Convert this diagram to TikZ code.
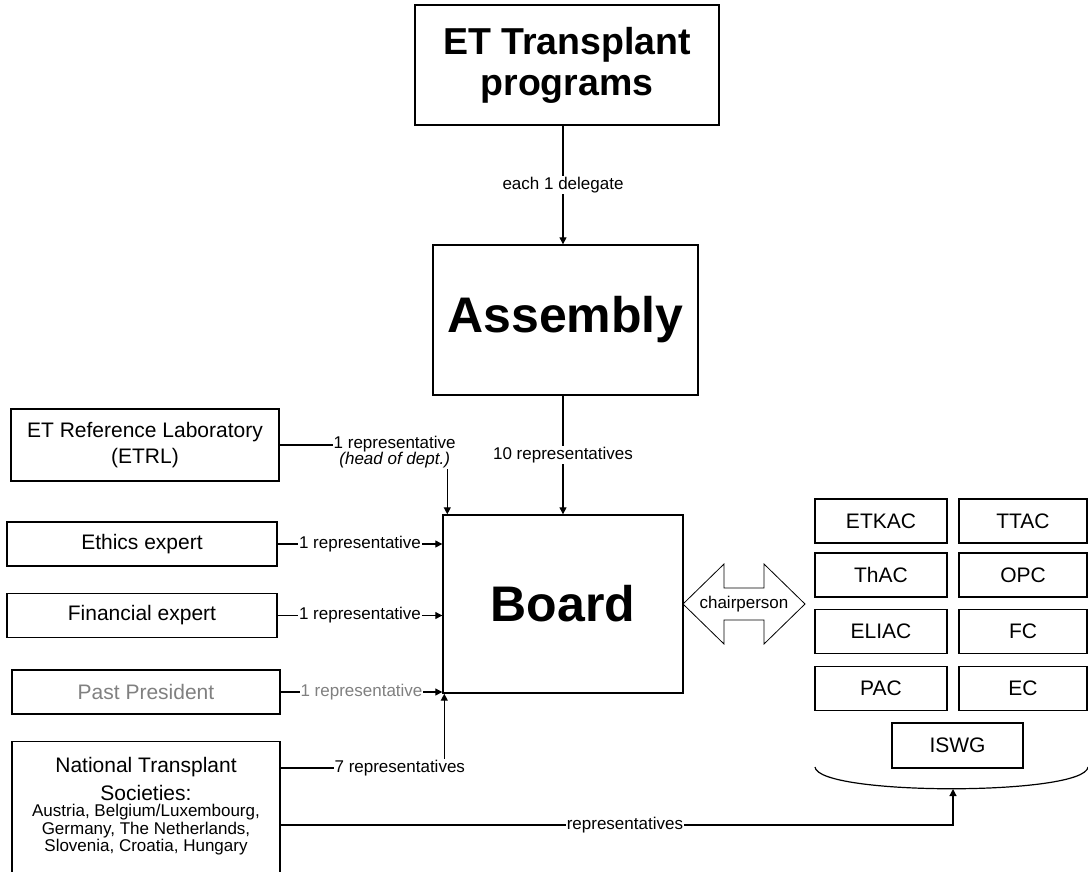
\documentclass[tikz,border=0pt]{standalone}
\usepackage{fontspec}
\setmainfont{Liberation Sans}
\usetikzlibrary{arrows.meta}
\definecolor{pastgray}{rgb}{0.5, 0.5, 0.5}

\begin{document}
\begin{tikzpicture}[x=1pt, y=-1pt,
					box/.style = {shape=rectangle, draw, line width=1.4pt,
						inner sep=0pt, align=center,
					font=\fontsize{21}{26}\selectfont},
					bigbox/.style = {box, font=\bfseries\fontsize{50}{60}\selectfont},
					expert/.style = {box, minimum width=270pt, minimum height=44pt},
					committee/.style = {box, minimum width=132pt, minimum height=44pt},
					lbl/.style = {fill=white, inner sep=1pt, align=center,
					font=\fontsize{17}{16}\selectfont},
					arr/.style = {line width=1.2pt, -{Triangle[length=7pt,width=7pt]}}]
				\clip (0,0) rectangle (1088,871);
				% governing bodies
				\node[bigbox, minimum width=304pt, minimum height=120pt,
					font=\bfseries\fontsize{37.5}{41}\selectfont] (et) at (567,65) {ET Transplant\\programs};
				\node[bigbox, minimum width=265pt, minimum height=150pt] (assembly) at (565.5,320) {Assembly};
				\node[bigbox, minimum width=240pt, minimum height=178pt] (board) at (563,604) {Board};
				% members on the left
				\node[box, minimum width=268pt, minimum height=72pt] (etrl) at (145,445) {ET Reference Laboratory\\(ETRL)};
				\node[expert] (ethics) at (142,544) {Ethics expert};
				\node[expert] (financial) at (142,615.5) {Financial expert};
				\node[expert, minimum width=268pt, text=pastgray] (past) at (146,692) {Past President};
				\node[box, anchor=north, minimum width=268pt, font=\fontsize{21}{28}\selectfont,
					inner ysep=16pt, text depth=90pt] (nts) at (146,741)
					{National Transplant\\Societies:\\[-12pt]
					\fontsize{17}{17.5}\selectfont Austria, Belgium/Luxembourg,\\[-10.5pt]
					\fontsize{17}{17.5}\selectfont Germany, The Netherlands,\\[-10.5pt]
					\fontsize{17}{17.5}\selectfont Slovenia, Croatia, Hungary};
				% committees
				\node[committee] (etkac) at (881,521) {ETKAC};
				\node[committee, minimum width=128pt] (ttac) at (1023,521) {TTAC};
				\node[committee] (thac) at (881,575) {ThAC};
				\node[committee, minimum width=128pt] (opc) at (1023,575) {OPC};
				\node[committee] (eliac) at (881,631.5) {ELIAC};
				\node[committee, minimum width=128pt] (fc) at (1023,631.5) {FC};
				\node[committee] (pac) at (881,688.5) {PAC};
				\node[committee, minimum width=128pt] (ec) at (1023,688.5) {EC};
				\node[committee, minimum width=131pt, minimum height=45pt] (iswg) at (957.5,745.5) {ISWG};
				\coordinate (brace) at (953,789);
				\draw[line width=1.2pt] (815,767) .. controls (818,796) and (1085,796) .. (1088,767);
				% chairperson double arrow
				\coordinate (chair) at (744,604);
				\draw[line width=0.8pt] (chair) ++(-61,0) -- ++(41,-40) -- ++(0,24) -- ++(40,0) -- ++(0,-24)
					-- ++(41,40) -- ++(-41,40) -- ++(0,-24) -- ++(-40,0) -- ++(0,24) -- cycle;
				\node[font=\fontsize{17}{18}\selectfont] (chairtxt) at (chair) {chairperson};
				% delegates and representatives
				\draw[arr] (et.south -| board.north) -- (assembly.north -| board.north)
					node[lbl, midway] {each 1 delegate};
				\draw[arr] (assembly.south -| board.north) -- (board.north)
					node[lbl, midway] {10 representatives};
				\draw[arr] (etrl.east) -| ([xshift=5pt]board.north west)
					node[lbl, pos=0.343, yshift=-7pt] {1 representative\\\textit{(head of dept.)}};
				\draw[arr] (ethics.east) -- (ethics.east -| board.west)
					node[lbl, midway] {1 representative};
				\draw[arr] (financial.east) -- (financial.east -| board.west)
					node[lbl, midway] {1 representative};
				\draw[arr] (past.east) -- (past.east -| board.west)
					node[lbl, midway, text=pastgray] {1 representative};
				\draw[arr] ([yshift=-27pt]nts.north east) -| ([xshift=2pt]board.south west)
					node[lbl, pos=0.364] {7 representatives};
				\draw[arr] ([yshift=-84pt]nts.north east) -| (brace)
					node[lbl, pos=0.256] {representatives};
\end{tikzpicture}
\end{document}
